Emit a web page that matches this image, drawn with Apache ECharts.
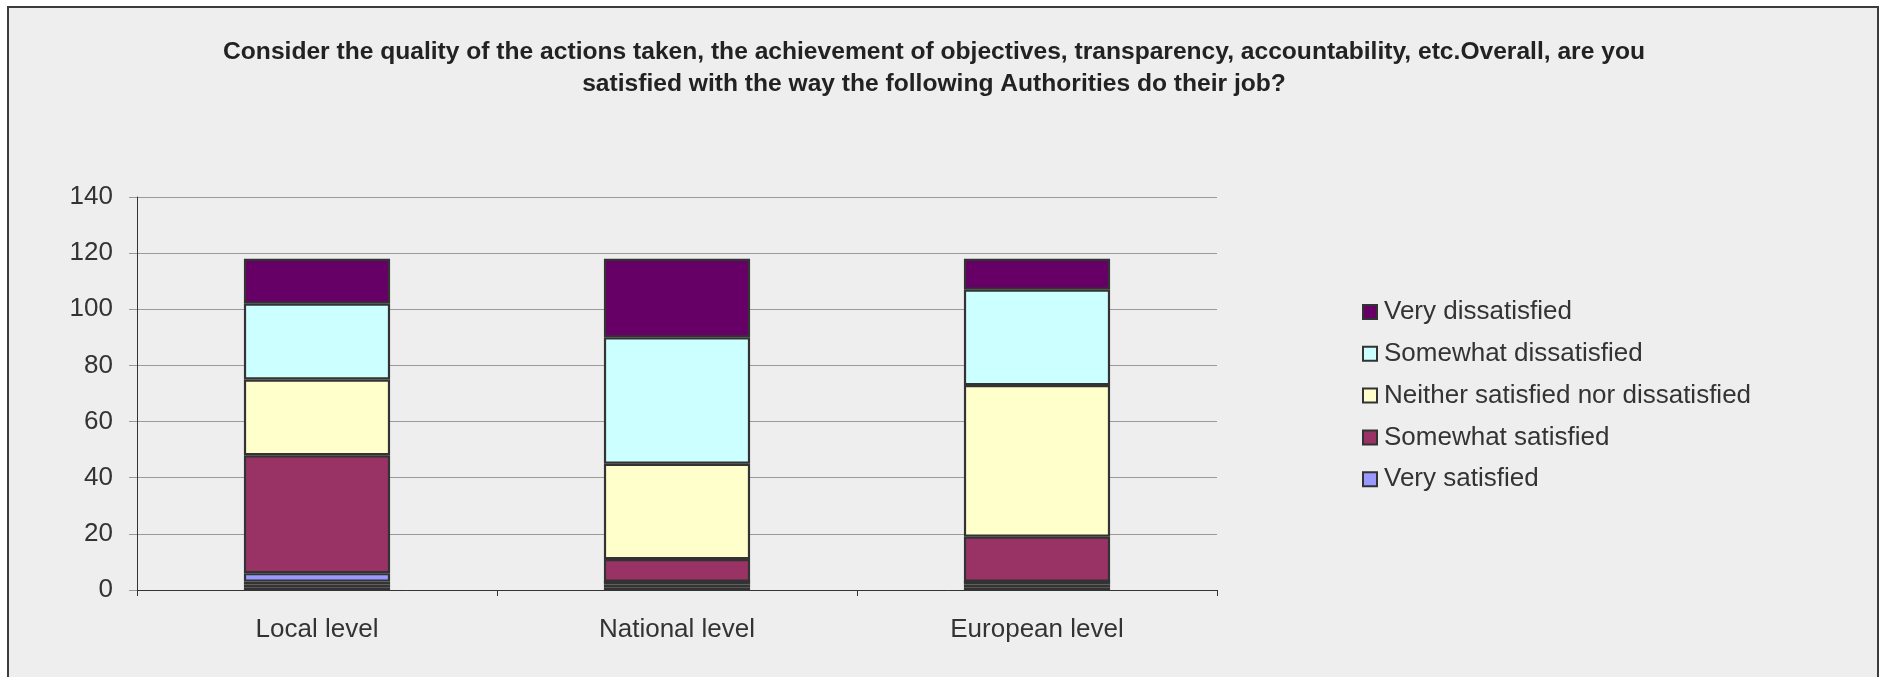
<!DOCTYPE html>
<html>
<head>
<meta charset="utf-8">
<title>Satisfaction with Authorities</title>
<script src="https://cdn.jsdelivr.net/npm/echarts@6/dist/echarts.min.js"></script>
<style>
  html, body { margin: 0; padding: 0; background: #ffffff; }
  #frame {
    position: absolute; left: 7px; top: 6px; width: 1868px; height: 700px;
    background: #eeeeee; border: 2px solid #3c3c3c;
  }
  #chart { position: absolute; left: 0; top: 0; width: 1885px; height: 677px; }
</style>
</head>
<body>
<div id="frame"></div>
<div id="chart"></div>
<script>
// Survey levels (x axis)
const categories = ['Local level', 'National level', 'European level'];

// Response counts per level, stacked bottom to top
const unlisted1 = [1, 1, 1];
const unlisted2 = [1, 1, 1];
const unlisted3 = [1, 1, 1];
const verySatisfied = [3, 0, 0];
const somewhatSatisfied = [42, 8, 16];
const neither = [27, 34, 54];
const somewhatDissatisfied = [27, 45, 34];
const veryDissatisfied = [16, 28, 11];

const yTicks = { min: 0, max: 140, step: 20 };

const titleLines = [
  'Consider the quality of the actions taken, the achievement of objectives, transparency, accountability, etc.Overall, are you',
  'satisfied with the way the following Authorities do their job?'
];

const FONT = '"Liberation Sans", Arial, sans-serif';
const EDGE = '#333333';

function stackSeries(name, data, color) {
  return {
    name: name,
    type: 'bar',
    stack: 'all',
    barWidth: '40.6%',
    data: data,
    itemStyle: { color: color, borderColor: EDGE, borderWidth: 2.2 },
    emphasis: { disabled: true }
  };
}

const chart = echarts.init(document.getElementById('chart'), null, { renderer: 'canvas' });

chart.setOption({
  animation: false,
  backgroundColor: 'transparent',
  textStyle: { fontFamily: FONT },
  graphic: [
    {
      type: 'text', x: 934, y: 52,
      style: {
        text: titleLines[0], fill: '#222222', font: 'bold 24.6px ' + FONT,
        textAlign: 'center', textVerticalAlign: 'middle'
      }
    },
    {
      type: 'text', x: 934, y: 84.5,
      style: {
        text: titleLines[1], fill: '#222222', font: 'bold 24.6px ' + FONT,
        textAlign: 'center', textVerticalAlign: 'middle'
      }
    }
  ],
  grid: { left: 137, right: 668, top: 197, bottom: 87, containLabel: false },
  legend: {
    orient: 'vertical',
    left: 1357,
    top: 292,
    itemWidth: 14,
    itemHeight: 14,
    itemGap: 11.8,
    icon: 'rect',
    selectedMode: false,
    data: ['Very dissatisfied', 'Somewhat dissatisfied', 'Neither satisfied nor dissatisfied',
           'Somewhat satisfied', 'Very satisfied'],
    itemStyle: { borderColor: EDGE, borderWidth: 2 },
    textStyle: { fontSize: 26, color: '#333333', fontFamily: FONT, lineHeight: 30, padding: [0, 0, 0, 2] }
  },
  xAxis: {
    type: 'category',
    data: categories,
    axisLine: { lineStyle: { color: '#333333', width: 1 } },
    axisTick: { show: true, length: 6, lineStyle: { color: '#333333' } },
    axisLabel: { fontSize: 26, color: '#333333', margin: 27, fontFamily: FONT }
  },
  yAxis: {
    type: 'value',
    min: yTicks.min,
    max: yTicks.max,
    interval: yTicks.step,
    axisLine: { show: true, lineStyle: { color: '#333333', width: 1 } },
    axisTick: { show: true, length: 8, lineStyle: { color: '#999999' } },
    axisLabel: { fontSize: 26, color: '#333333', margin: 24, fontFamily: FONT },
    splitLine: { show: true, lineStyle: { color: '#9a9a9a', width: 1 } }
  },
  series: [
    stackSeries('unlisted 1', unlisted1, '#7a7a70'),
    stackSeries('unlisted 2', unlisted2, '#7a7a70'),
    stackSeries('unlisted 3', unlisted3, '#7a7a70'),
    stackSeries('Very satisfied', verySatisfied, '#9999ff'),
    stackSeries('Somewhat satisfied', somewhatSatisfied, '#993366'),
    stackSeries('Neither satisfied nor dissatisfied', neither, '#ffffcc'),
    stackSeries('Somewhat dissatisfied', somewhatDissatisfied, '#ccffff'),
    stackSeries('Very dissatisfied', veryDissatisfied, '#660066')
  ]
});
</script>
</body>
</html>
